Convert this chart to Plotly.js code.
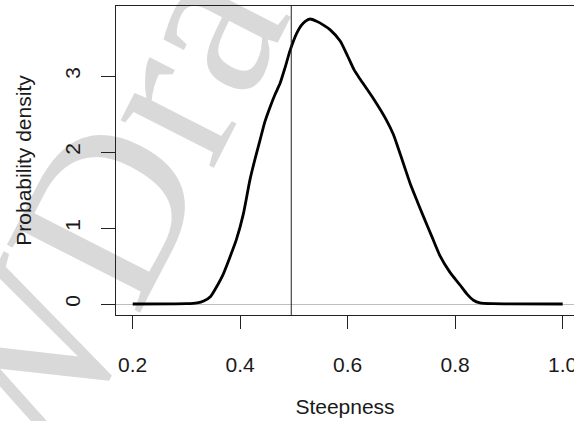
<!DOCTYPE html>
<html>
<head>
<meta charset="utf-8">
<script src="https://cdn.plot.ly/plotly-3.0.1.min.js"></script>
<style>html,body{margin:0;padding:0;background:#fff;}#chart{width:574px;height:421px;}</style>
</head>
<body>
<div id="chart"></div>
<script>
var steepness = [0.200, 0.300, 0.320, 0.332, 0.345, 0.358, 0.367, 0.380, 0.393, 0.406, 0.418, 0.428, 0.437, 0.446, 0.456, 0.465, 0.474, 0.483, 0.493, 0.505, 0.513, 0.521, 0.530, 0.542, 0.555, 0.567, 0.586, 0.600, 0.612, 0.623, 0.648, 0.672, 0.685, 0.694, 0.705, 0.716, 0.730, 0.741, 0.757, 0.772, 0.790, 0.809, 0.822, 0.834, 0.846, 0.870, 1.000];
var density   = [0,     0.004, 0.015, 0.04,  0.10,  0.25,  0.37,  0.60,  0.85,  1.19,  1.63,  1.92,  2.16,  2.40,  2.60,  2.76,  2.90,  3.10,  3.34,  3.56,  3.66,  3.72,  3.75,  3.72,  3.67,  3.61,  3.46,  3.26,  3.08,  2.96,  2.70,  2.42,  2.23,  2.05,  1.82,  1.59,  1.34,  1.15,  0.88,  0.63,  0.42,  0.25,  0.13,  0.05,  0.015, 0.004, 0];
var refLine = [0.495];
var xTickVals = [0.2, 0.4, 0.6, 0.8, 1.0];
var xTickText = ["0.2", "0.4", "0.6", "0.8", "1.0"];
var yTickVals = [0, 1, 2, 3];
var yTickText = ["0", "1", "2", "3"];
var watermark = "WDra";

var font = {family: "Liberation Sans, Arial, sans-serif", size: 21, color: "#1a1a1a"};

var trace = {
  x: steepness, y: density, type: "scatter", mode: "lines",
  line: {color: "#000", width: 2.8, shape: "spline", smoothing: 0.6},
  hoverinfo: "skip", showlegend: false
};

var layout = {
  width: 574, height: 421,
  margin: {l: 116, r: 0, t: 6, b: 106, pad: 0},
  paper_bgcolor: "#fff", plot_bgcolor: "rgba(0,0,0,0)",
  font: font,
  showlegend: false,
  xaxis: {
    range: [0.16893, 1.02102], autorange: false,
    tickvals: xTickVals, ticktext: xTickText,
    ticks: "outside", ticklen: 13, tickwidth: 1, tickcolor: "#222",
    ticklabelstandoff: 18, ticklabeloverflow: "allow",
    showline: true, linecolor: "#222", linewidth: 1, mirror: true,
    showgrid: false, zeroline: false, automargin: false,
    tickfont: font,
    title: {text: "Steepness", font: font, standoff: 24}
  },
  yaxis: {
    range: [-0.1447, 3.921], autorange: false,
    tickvals: yTickVals, ticktext: yTickText, tickangle: -90,
    ticks: "outside", ticklen: 14, tickwidth: 1, tickcolor: "#222",
    ticklabelstandoff: 13,
    showline: true, linecolor: "#222", linewidth: 1, mirror: false,
    showgrid: false, zeroline: true, zerolinecolor: "#bebebe", zerolinewidth: 1,
    automargin: false,
    tickfont: font,
    title: {text: "Probability density", font: font, standoff: 23}
  },
  shapes: [
    {
      type: "line", xref: "x", yref: "paper",
      x0: refLine[0], x1: refLine[0], y0: 0, y1: 1,
      line: {color: "#222", width: 1}
    },
    {
      type: "rect", xref: "paper", yref: "paper",
      x0: -0.14, x1: -0.04, y0: 0.271, y1: 0.371,
      line: {width: 0}, fillcolor: "rgba(0,0,0,0)", layer: "below",
      label: {
        text: watermark, textangle: -63, textposition: "middle center",
        font: {family: "Liberation Serif, DejaVu Serif, serif", size: 228, color: "#d9d9d9"}
      }
    }
  ]
};

Plotly.newPlot("chart", [trace], layout, {staticPlot: true, displayModeBar: false});
</script>
</body>
</html>
